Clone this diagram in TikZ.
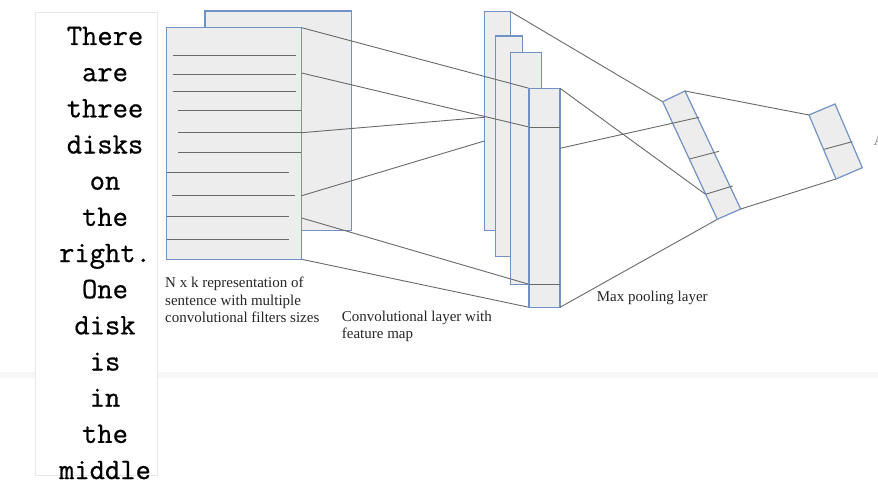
\documentclass[tikz,border=0pt]{standalone}
\usepackage{fontspec}
\setmainfont{Liberation Serif}
\newfontfamily\panelfont{Latin Modern Mono}[FakeBold=0.7]
\definecolor{boxblue}{RGB}{112,146,196}
\definecolor{boxfill}{RGB}{237,237,237}
\definecolor{linegray}{RGB}{105,105,105}
\begin{document}
\begin{tikzpicture}[x=1pt,y=-1pt,
  box/.style={draw=boxblue, fill=boxfill, line width=1.2pt, inner sep=0pt, outer sep=0pt, anchor=north west, line join=miter},
  conn/.style={draw=linegray, line width=0.9pt},
  rowline/.style={draw=linegray, line width=1pt},
  lbl/.style={font=\fontsize{15}{17}\selectfont, anchor=base west, inner sep=0pt, text=black!85},
  word/.style={font=\panelfont\fontsize{29.7}{36}\selectfont, anchor=base, inner sep=0pt}]
\useasboundingbox (0,0) rectangle (878,500);
\fill[white] (0,0) rectangle (878,500);
% faint torn band
\fill[gray!7] (0,372) rectangle (878,378);

% left text panel
\node[draw=gray!18, fill=white, line width=1pt, minimum width=122pt, minimum height=463pt, anchor=north west, inner sep=0pt] (panel) at (35,12) {};
\foreach \w [count=\i from 0] in {There,are,three,disks,on,the,right.,One,disk,is,in,the,middle}
  \node[word] (w\i) at (105,45+36.17*\i) {\w};

% input matrix
\node[box, minimum width=146.7pt, minimum height=219.7pt] (back) at (205,11) {};
\node[box, minimum width=135pt, minimum height=231.6pt] (front) at (166.7,27.7) {};
\draw[rowline] (172.7,56) -- (295.7,56);
\draw[rowline] (172.7,75) -- (295.7,75);
\draw[rowline] (172.7,91.7) -- (295.7,91.7);
\draw[rowline] (178.3,110.7) -- (300.5,110.7);
\draw[rowline] (178.3,132.7) -- (300.5,132.7);
\draw[rowline] (178.3,152.7) -- (300.5,152.7);
\draw[rowline] (167.3,172.7) -- (289.3,172.7);
\draw[rowline] (172,195.7) -- (295,195.7);
\draw[rowline] (167.3,216) -- (289.3,216);
\draw[rowline] (167.3,239.3) -- (289.3,239.3);
\coordinate (m2) at (301.7,73);
\coordinate (m3) at (301.7,132.7);
\coordinate (m4) at (301.7,195.7);
\coordinate (m5) at (301.7,218);

% convolutional feature maps
\node[box, minimum width=26.4pt, minimum height=219pt] (map1) at (484.3,11.7) {};
\node[box, minimum width=27pt, minimum height=220.7pt] (map2) at (495.7,36) {};
\node[box, minimum width=31pt, minimum height=231.6pt] (map3) at (510.7,52.7) {};
\coordinate (c1) at (484.3,117.3);
\coordinate (c2) at (484.3,141);
\coordinate (d1w) at (529,127);
\coordinate (d2w) at (529,284.3);
\draw[conn] (front.north east) -- (529,88.3);
\draw[conn] (m2) -- (d1w);
\draw[conn] (m3) -- (c1);
\draw[conn] (m4) -- (c2);
\draw[conn] (m5) -- (d2w);
\draw[conn] (front.south east) -- (529,307.3);
\node[box, minimum width=31pt, minimum height=219pt] (map4) at (529,88.3) {};
\coordinate (d1e) at (560,127);
\coordinate (d2e) at (560,284.3);
\draw[conn] (d1w) -- (d1e);
\draw[conn] (d2w) -- (d2e);
\coordinate (r1) at (560,148.3);

% max pooling layer 1
\coordinate (p1a) at (662.7,101.7);
\coordinate (p1b) at (685,91);
\coordinate (p1c) at (740.7,209);
\coordinate (p1d) at (717.3,219.3);
\coordinate (q1e) at (699,117.3);
\coordinate (q2w) at (689.5,159);
\coordinate (q2e) at (719,151.3);
\coordinate (q3w) at (705.5,194.3);
\coordinate (q3e) at (732.7,186);
\draw[conn] (map1.north east) -- (p1a);
\draw[conn] (map4.north east) -- (q3w);
\draw[conn] (map4.south east) -- (p1d);
\draw[box] (p1a) -- (p1b) -- (p1c) -- (p1d) -- cycle;
\draw[conn] (r1) -- (q1e);
\draw[conn] (q2w) -- (q2e);
\draw[conn] (q3w) -- (q3e);

% max pooling layer 2
\coordinate (p2a) at (809,115);
\coordinate (p2b) at (835,104);
\coordinate (p2c) at (862.3,167.7);
\coordinate (p2d) at (836,179);
\coordinate (s1w) at (824,149.3);
\coordinate (s1e) at (852.3,141.7);
\draw[conn] (p1b) -- (p2a);
\draw[conn] (p1c) -- (p2d);
\draw[box] (p2a) -- (p2b) -- (p2c) -- (p2d) -- cycle;
\draw[conn] (s1w) -- (s1e);

% labels
\node[lbl] (la1) at (165,287.3) {N x k representation of};
\node[lbl] (la2) at (165,305) {sentence with multiple};
\node[lbl] (la3) at (165,322.7) {convolutional filters sizes};
\node[lbl] (lb1) at (341.7,321.7) {Convolutional layer with};
\node[lbl] (lb2) at (341.7,338.5) {feature map};
\node[lbl] (lc1) at (596.7,301.7) {Max pooling layer};
\node[lbl, text=gray] (ld1) at (873.5,146) {A};
\end{tikzpicture}
\end{document}
